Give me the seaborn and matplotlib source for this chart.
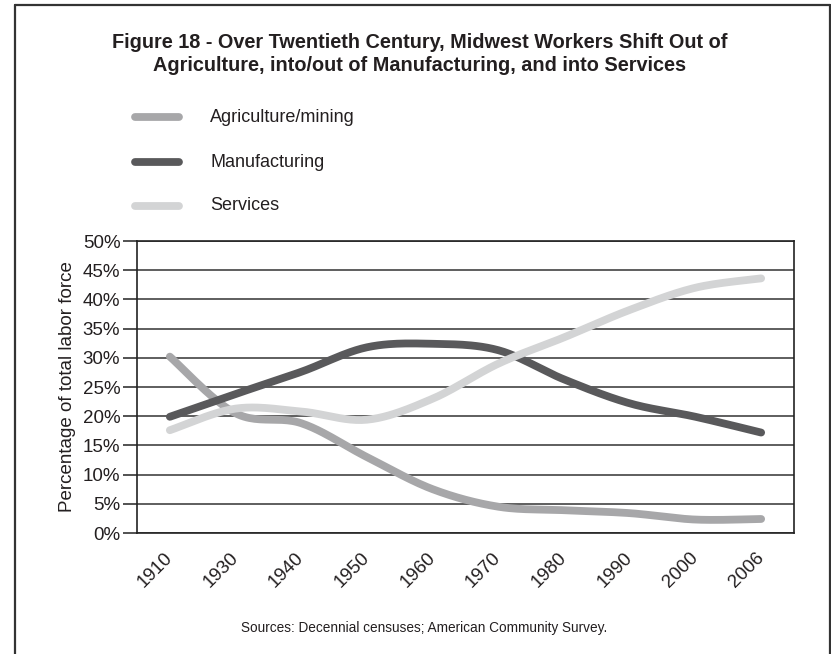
import numpy as np
import pandas as pd
import matplotlib
matplotlib.use("Agg")
import matplotlib.pyplot as plt
from matplotlib.lines import Line2D
import seaborn as sns

# ---- data -------------------------------------------------------------
years = ["1910", "1930", "1940", "1950", "1960", "1970", "1980", "1990", "2000", "2006"]
agriculture = [30.2, 20.5, 18.8, 13.0, 7.5, 4.5, 3.9, 3.4, 2.3, 2.4]
manufacturing = [19.9, 23.8, 27.6, 31.8, 32.4, 31.3, 26.3, 22.2, 19.9, 17.2]
services = [17.6, 21.3, 20.8, 19.4, 23.0, 29.0, 33.5, 38.2, 42.0, 43.6]

series_names = ["Agriculture/mining", "Manufacturing", "Services"]
series_values = [agriculture, manufacturing, services]
series_colors = ["#a7a7a9", "#59595b", "#d3d4d5"]

y_ticks = [0, 5, 10, 15, 20, 25, 30, 35, 40, 45, 50]
y_tick_labels = [f"{v}%" for v in y_ticks]

title = ("Figure 18 - Over Twentieth Century, Midwest Workers Shift Out of\n"
         "Agriculture, into/out of Manufacturing, and into Services")
y_label = "Percentage of total labor force"
source_note = "Sources: Decennial censuses; American Community Survey."

# ---- style ------------------------------------------------------------
sns.set_theme(style="white")
FONT = ["Liberation Sans Narrow", "Liberation Sans", "DejaVu Sans"]
plt.rcParams["font.family"] = FONT
TEXT = "#231f20"

W, H = 831, 654
fig = plt.figure(figsize=(W / 100, H / 100), dpi=100)
fig.patch.set_facecolor("white")


def fx(px):
    return px / W


def fy(py):
    return 1 - py / H


def smooth(xs, ys, steps=24):
    """Catmull-Rom curve through the points, as drawn by spreadsheet 'smoothed lines'."""
    p = np.column_stack([xs, ys]).astype(float)
    p = np.vstack([p[0], p, p[-1]])
    out = []
    t = np.linspace(0, 1, steps, endpoint=False)[:, None]
    for i in range(1, len(p) - 2):
        p0, p1, p2, p3 = p[i - 1], p[i], p[i + 1], p[i + 2]
        c = 0.5 * ((2 * p1) + (-p0 + p2) * t + (2 * p0 - 5 * p1 + 4 * p2 - p3) * t ** 2
                   + (-p0 + 3 * p1 - 3 * p2 + p3) * t ** 3)
        out.append(c)
    out.append(p[-2][None, :])
    c = np.vstack(out)
    return c[:, 0], c[:, 1]


# ---- plot area --------------------------------------------------------
left, right, top, bottom = 137, 794, 241, 533
ax = fig.add_axes([fx(left), fy(bottom), fx(right - left), (bottom - top) / H])

pos = np.arange(len(years))
frames = []
for name, vals in zip(series_names, series_values):
    sx, sy = smooth(pos, vals)
    frames.append(pd.DataFrame({"x": sx, "y": sy, "series": name}))
curves = pd.concat(frames, ignore_index=True)

sns.lineplot(data=curves, x="x", y="y", hue="series", hue_order=series_names,
             palette=series_colors, linewidth=5.6, sort=False, estimator=None,
             legend=False, ax=ax, zorder=3)
for ln in ax.get_lines():
    ln.set_solid_capstyle("round")
    ln.set_solid_joinstyle("round")

ax.set_xlim(-0.5, len(years) - 0.5)
ax.set_ylim(0, 50)
ax.set_yticks(y_ticks)
ax.set_yticklabels(y_tick_labels)
ax.set_xticks(pos)
ax.set_xticklabels(years, rotation=45, ha="right", va="center", rotation_mode="anchor")
ax.set_xlabel("")
ax.set_ylabel(y_label, fontsize=13.5, color=TEXT, labelpad=5)

ax.yaxis.grid(True, color="#333333", linewidth=1.1, zorder=1)
ax.xaxis.grid(False)
ax.set_axisbelow(True)
for sp in ax.spines.values():
    sp.set_visible(True)
    sp.set_color("#222222")
    sp.set_linewidth(1.2)

ax.tick_params(axis="y", which="major", left=True, length=10, width=1.1,
               color="#222222", pad=2, labelsize=13.5, labelcolor=TEXT)
ax.tick_params(axis="x", which="major", bottom=False, length=0, pad=16,
               labelsize=13.5, labelcolor=TEXT)

# ---- title, legend, note ---------------------------------------------
fig.text(fx(420), fy(54), title, ha="center", va="center", fontsize=14.3,
         fontweight="bold", color=TEXT, linespacing=1.3)

legend_y = [117, 162, 206]
for name, col, yy in zip(series_names, series_colors, legend_y):
    fig.add_artist(Line2D([fx(135), fx(179)], [fy(yy), fy(yy)], color=col,
                          linewidth=5.6, solid_capstyle="round",
                          transform=fig.transFigure))
    fig.text(fx(210), fy(yy), name, ha="left", va="center", fontsize=13, color=TEXT)

fig.text(fx(424), fy(628), source_note, ha="center", va="center",
         fontsize=9.8, color=TEXT)

# outer frame around the figure
frame_kw = dict(color="#333333", linewidth=1.6, transform=fig.transFigure)
fig.add_artist(Line2D([fx(15), fx(15)], [fy(5), 0], **frame_kw))
fig.add_artist(Line2D([fx(15), fx(830)], [fy(5), fy(5)], **frame_kw))
fig.add_artist(Line2D([fx(830), fx(830)], [fy(5), 0], **frame_kw))

fig.savefig("out.png", dpi=100, facecolor="white")
